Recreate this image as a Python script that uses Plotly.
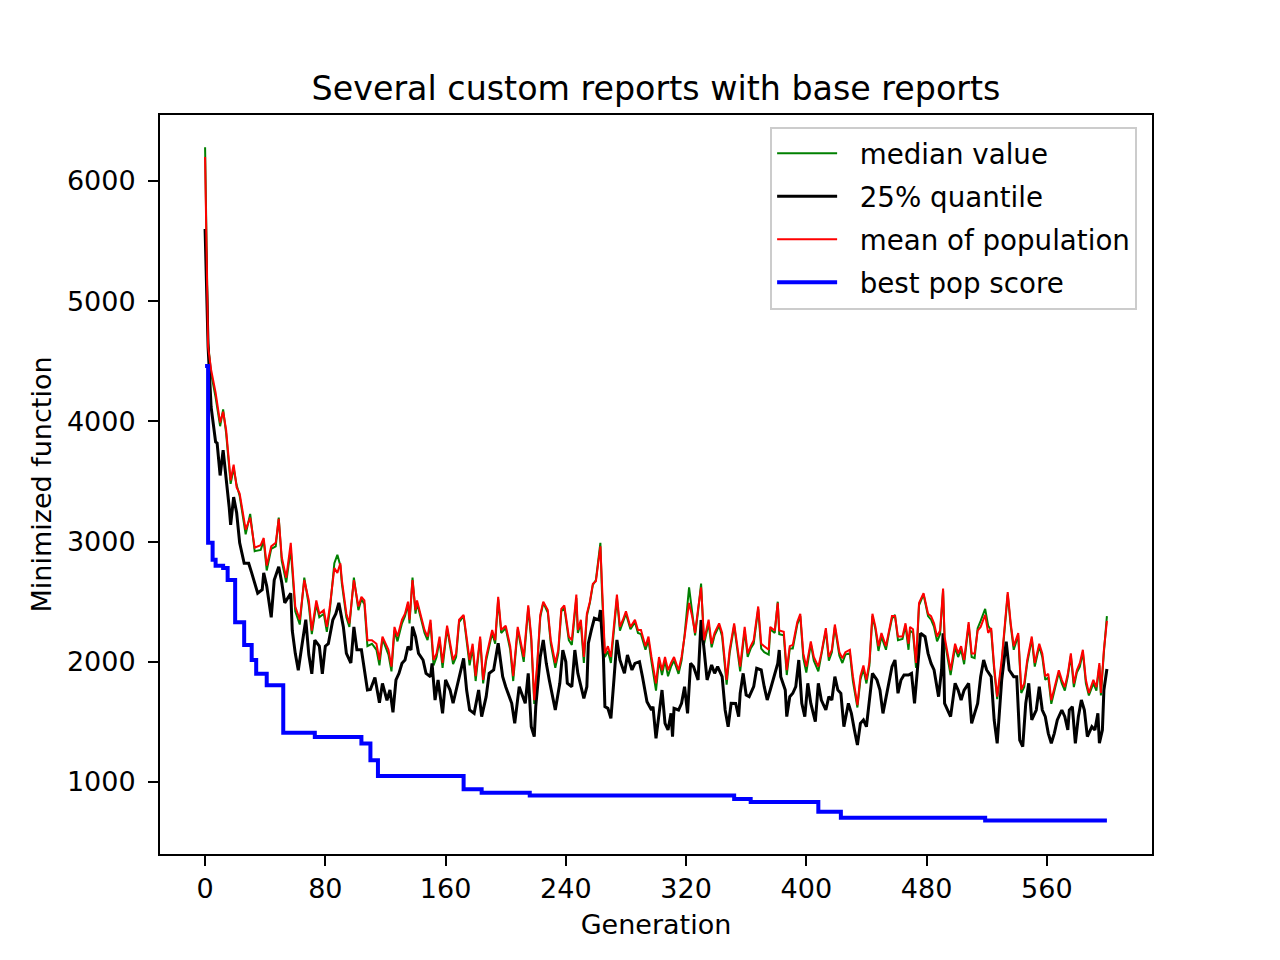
import plotly.graph_objects as go

# generations sampled along the noisy curves (mean and median share them)
gen_pop = [0, 2, 4, 7, 10, 12, 14, 16, 17, 19,
           21, 23, 27, 30, 33, 37, 39, 41, 44, 47,
           49, 51, 54, 57, 60, 63, 66, 69, 71, 74,
           76, 79, 81, 83, 86, 88, 90, 91, 94, 96,
           99, 102, 104, 106, 108, 111, 114, 116, 118, 122,
           124, 126, 128, 131, 133, 135, 136, 138, 140, 141,
           144, 146, 148, 150, 152, 154, 156, 158, 161, 163,
           165, 167, 169, 172, 174, 176, 178, 180, 183, 185,
           187, 191, 193, 195, 197, 200, 203, 205, 208, 212,
           215, 217, 219, 221, 223, 225, 228, 230, 233, 235,
           237, 239, 242, 244, 247, 248, 250, 252, 254, 256,
           258, 260, 263, 264, 266, 268, 270, 274, 276, 278,
           280, 283, 286, 288, 290, 293, 295, 297, 300, 302,
           304, 306, 308, 310, 312, 315, 317, 319, 322, 324,
           326, 328, 330, 332, 335, 337, 339, 342, 344, 347,
           349, 352, 355, 356, 359, 361, 363, 365, 368, 370,
           372, 375, 376, 379, 381, 382, 385, 387, 389, 391,
           394, 396, 398, 400, 403, 405, 408, 410, 413, 415,
           417, 419, 422, 424, 426, 429, 431, 434, 436, 438,
           440, 442, 444, 446, 448, 450, 453, 455, 457, 459,
           461, 464, 466, 468, 469, 471, 473, 475, 478, 481,
           483, 485, 487, 489, 491, 492, 495, 496, 499, 501,
           503, 505, 508, 510, 512, 514, 516, 519, 521, 523,
           525, 527, 530, 532, 534, 536, 538, 541, 543, 545,
           547, 550, 552, 555, 557, 559, 561, 563, 565, 568,
           570, 572, 574, 576, 578, 580, 582, 584, 586, 588,
           591, 593, 595, 596, 598, 600]

mean_pop = [6200, 4620, 4430, 4240, 3990, 4080, 3930, 3680, 3510, 3640,
            3450, 3400, 3100, 3200, 2950, 2970, 3030, 2800, 2960, 2990,
            3190, 2870, 2700, 2990, 2460, 2350, 2680, 2510, 2260, 2510,
            2400, 2430, 2290, 2460, 2780, 2740, 2820, 2680, 2400, 2320,
            2680, 2460, 2540, 2510, 2180, 2180, 2150, 2015, 2210, 2100,
            1960, 2290, 2210, 2350, 2400, 2500, 2350, 2680, 2430, 2510,
            2360, 2265, 2210, 2350, 2015, 2070, 2210, 1990, 2300, 2150,
            2015, 2070, 2350, 2390, 2210, 2015, 2150, 1880, 2210, 1850,
            2040, 2265, 2180, 2540, 2265, 2300, 2130, 1880, 2290, 2040,
            2470, 2210, 1680, 1990, 2390, 2500, 2430, 2180, 1990, 2100,
            2440, 2470, 2210, 2180, 2560, 2265, 2350, 2040, 2400, 2500,
            2650, 2670, 2960, 2620, 2070, 2130, 2040, 2560, 2290, 2350,
            2420, 2290, 2350, 2265, 2265, 2130, 2210, 2040, 1820, 2040,
            1930, 2040, 1930, 1990, 2040, 1930, 2040, 2210, 2490, 2380,
            2240, 2440, 2620, 2180, 2350, 2150, 2240, 2320, 2240, 1850,
            2100, 2320, 2015, 1960, 2290, 2070, 2130, 2180, 2460, 2150,
            2130, 2100, 2290, 2260, 2490, 2260, 2250, 1930, 2130, 2140,
            2330, 2400, 2070, 1960, 2170, 2040, 1960, 2070, 2280, 2040,
            2100, 2310, 2080, 2030, 2080, 2100, 1880, 1640, 1880, 1970,
            1850, 2000, 2400, 2290, 2130, 2240, 2130, 2260, 2380, 2380,
            2210, 2210, 2320, 2150, 2290, 2270, 1990, 2490, 2570, 2400,
            2380, 2320, 2210, 2260, 2610, 2210, 1990, 1930, 2150, 2070,
            2130, 2015, 2330, 2070, 2070, 2260, 2290, 2390, 2240, 2280,
            1960, 1710, 2015, 2320, 2580, 2320, 2130, 2240, 1770, 1820,
            2015, 2210, 1990, 2150, 2070, 1880, 1900, 1680, 1790, 1930,
            1850, 1790, 1900, 2070, 1820, 1930, 1990, 2100, 1850, 1740,
            1850, 1790, 1990, 1740, 2100, 2340]

median_pop = [6280, 4650, 4400, 4200, 3960, 4100, 3900, 3650, 3480, 3610,
              3470, 3380, 3060, 3230, 2920, 2930, 3010, 2760, 2940, 2960,
              3200, 2840, 2660, 2940, 2420, 2310, 2700, 2470, 2230, 2480,
              2370, 2400, 2250, 2430, 2820, 2890, 2800, 2650, 2370, 2290,
              2700, 2430, 2520, 2480, 2130, 2150, 2100, 1970, 2190, 2060,
              1920, 2260, 2170, 2320, 2380, 2480, 2320, 2700, 2400, 2490,
              2330, 2240, 2180, 2320, 1970, 2040, 2180, 1950, 2280, 2120,
              1980, 2040, 2330, 2380, 2180, 1970, 2120, 1840, 2190, 1820,
              2010, 2240, 2150, 2520, 2240, 2280, 2100, 1840, 2270, 2000,
              2450, 2180, 1650, 1960, 2370, 2490, 2410, 2150, 1950, 2070,
              2420, 2450, 2180, 2140, 2530, 2240, 2320, 1990, 2380, 2490,
              2640, 2680, 2990, 2600, 2040, 2090, 1990, 2530, 2260, 2330,
              2400, 2270, 2330, 2240, 2230, 2100, 2180, 2000, 1760, 2010,
              1890, 2010, 1880, 1960, 2010, 1900, 2010, 2220, 2620, 2420,
              2220, 2420, 2650, 2150, 2320, 2120, 2220, 2300, 2210, 1810,
              2070, 2300, 1980, 1920, 2260, 2040, 2110, 2150, 2440, 2110,
              2080, 2060, 2270, 2240, 2500, 2230, 2220, 1890, 2110, 2110,
              2310, 2380, 2030, 1910, 2150, 2010, 1920, 2050, 2260, 2010,
              2080, 2290, 2050, 1990, 2060, 2070, 1840, 1620, 1850, 1940,
              1820, 1970, 2380, 2270, 2090, 2210, 2100, 2240, 2360, 2390,
              2180, 2190, 2300, 2100, 2260, 2240, 1950, 2470, 2560, 2380,
              2350, 2290, 2170, 2230, 2590, 2180, 1950, 1890, 2120, 2040,
              2100, 1980, 2310, 2040, 2030, 2280, 2340, 2440, 2300, 2260,
              1930, 1690, 1990, 2300, 2560, 2300, 2100, 2220, 1740, 1790,
              1990, 2190, 1960, 2130, 2040, 1850, 1870, 1650, 1760, 1910,
              1820, 1760, 1880, 2050, 1790, 1910, 1960, 2080, 1820, 1720,
              1820, 1760, 1970, 1720, 2080, 2380]

gen_q25 = [0, 2, 4, 7, 8, 10, 12, 13, 16, 17,
           19, 21, 23, 26, 29, 31, 35, 38, 39, 41,
           44, 46, 49, 51, 53, 57, 58, 60, 62, 64,
           67, 69, 71, 73, 76, 78, 80, 82, 85, 87,
           89, 92, 94, 97, 99, 101, 104, 108, 110, 113,
           116, 118, 121, 123, 125, 127, 129, 131, 133, 135,
           137, 138, 140, 142, 145, 147, 150, 151, 153, 155,
           158, 160, 163, 165, 168, 172, 174, 176, 179, 182,
           184, 187, 189, 192, 195, 198, 200, 204, 206, 209,
           213, 215, 217, 219, 220, 223, 225, 227, 229, 233,
           236, 238, 240, 241, 244, 246, 248, 250, 252, 254,
           255, 257, 259, 262, 263, 265, 266, 268, 270, 272,
           274, 276, 279, 281, 284, 286, 289, 291, 294, 297,
           298, 300, 302, 304, 306, 308, 310, 311, 312, 315,
           317, 319, 321, 323, 325, 328, 330, 332, 334, 337,
           339, 341, 344, 346, 348, 350, 353, 355, 356, 358,
           360, 362, 365, 367, 370, 372, 374, 376, 379, 381,
           382, 383, 386, 387, 389, 391, 393, 395, 397, 399,
           401, 403, 406, 408, 410, 413, 415, 417, 419, 421,
           423, 425, 428, 430, 432, 434, 436, 438, 440, 442,
           444, 447, 449, 451, 453, 455, 457, 459, 461, 463,
           465, 468, 470, 472, 474, 476, 479, 481, 483, 485,
           488, 490, 491, 492, 495, 496, 499, 501, 503, 505,
           508, 510, 512, 514, 516, 518, 520, 523, 525, 527,
           530, 532, 533, 535, 538, 540, 542, 544, 546, 548,
           550, 553, 555, 557, 559, 561, 563, 565, 567, 570,
           572, 574, 575, 577, 579, 581, 583, 585, 587, 590,
           592, 594, 595, 597, 598, 600]

q25_pop = [5600, 4620, 4120, 3830, 3820, 3550, 3760, 3650, 3290, 3140,
           3370, 3240, 2990, 2820, 2820, 2740, 2570, 2600, 2740, 2630,
           2370, 2680, 2790, 2660, 2490, 2570, 2260, 2070, 1930, 2100,
           2350, 2060, 1900, 2180, 2130, 1900, 2130, 2150, 2350, 2400,
           2490, 2290, 2070, 1990, 2290, 2100, 2100, 1765, 1770, 1870,
           1660, 1820, 1680, 1765, 1580, 1850, 1904, 1987, 2015, 2126,
           2098, 2292, 2210, 2070, 2015, 1904, 1876, 1987, 1682, 1849,
           1571, 1849, 1765, 1655, 1821, 2029, 1765, 1599, 1571, 1765,
           1544, 1710, 1904, 1932, 2154, 1876, 1793, 1655, 1488, 1793,
           1655, 1904, 1460, 1377, 1627, 2043, 2182, 1987, 1849, 1599,
           1821, 2098, 2000, 1821, 1793, 2098, 1904, 1793, 1696, 1793,
           2154, 2265, 2362, 2348, 2431, 2043, 1627, 1613, 1530, 1849,
           2182, 2015, 1904, 2057, 1932, 1987, 2001, 1876, 1668, 1599,
           1627, 1363, 1544, 1765, 1488, 1433, 1571, 1377, 1613, 1599,
           1655, 1793, 1571, 1987, 1959, 1849, 2348, 2098, 1849, 1973,
           1904, 1959, 1876, 1599, 1460, 1655, 1654, 1544, 1738, 1904,
           1724, 1710, 1793, 1946, 1932, 1793, 1682, 1765, 1904, 1987,
           2098, 1876, 1765, 1544, 1710, 1738, 1793, 2015, 1654, 1544,
           1821, 1654, 1502, 1821, 1682, 1599, 1710, 1682, 1876, 1765,
           1738, 1460, 1654, 1571, 1433, 1308, 1488, 1516, 1460, 1710,
           1904, 1849, 1765, 1571, 1710, 1849, 1959, 2015, 1738, 1849,
           1890, 1890, 1904, 1654, 1987, 2237, 2209, 2070, 1987, 1932,
           1710, 1932, 2237, 1654, 1571, 1544, 1821, 1765, 1682, 1765,
           1821, 1488, 1571, 1654, 1876, 2015, 1932, 1876, 1516, 1322,
           1849, 2043, 2167, 1932, 1876, 1876, 1349, 1294, 1654, 1821,
           1516, 1599, 1793, 1599, 1544, 1405, 1322, 1405, 1516, 1599,
           1544, 1433, 1599, 1627, 1322, 1544, 1682, 1599, 1377, 1460,
           1433, 1571, 1322, 1433, 1765, 1940]

# best score only changes at these generations
gen_best = [0, 2, 5, 7, 12, 15, 20, 26, 31, 34, 41, 52, 73, 104, 110, 115,
            172, 184, 216, 352, 363, 408, 423, 519, 600]
best_pop = [4460, 2990, 2850, 2800, 2780, 2680, 2330, 2140, 2015, 1900, 1805,
            1410, 1375, 1320, 1180, 1050, 940, 911, 888, 859, 833, 752, 703,
            680, 680]

x_ticks = [0, 80, 160, 240, 320, 400, 480, 560]
y_ticks = [1000, 2000, 3000, 4000, 5000, 6000]

FONT = "DejaVu Sans"
PAD = "\u00a0\u00a0"  # gap between legend line and label, like matplotlib

fig = go.Figure()
fig.add_trace(go.Scatter(x=gen_pop, y=median_pop, mode="lines", name=PAD + "median value",
                         legendgroup="a", line=dict(color="green", width=2)))
fig.add_trace(go.Scatter(x=gen_q25, y=q25_pop, mode="lines", name=PAD + "25% quantile",
                         legendgroup="b", line=dict(color="black", width=3)))
fig.add_trace(go.Scatter(x=gen_pop, y=mean_pop, mode="lines", name=PAD + "mean of population",
                         legendgroup="c", line=dict(color="red", width=2)))
fig.add_trace(go.Scatter(x=gen_best, y=best_pop, mode="lines", name=PAD + "best pop score",
                         legendgroup="d", line=dict(color="blue", width=4, shape="hv")))

axis_style = dict(showline=True, mirror=True, linecolor="black", linewidth=2,
                  ticks="outside", ticklen=10, tickwidth=2, tickcolor="black",
                  showgrid=False, zeroline=False,
                  tickfont=dict(family=FONT, size=27, color="black"))

fig.update_xaxes(range=[-30, 630], tickvals=x_ticks,
                 title=dict(text="Generation", font=dict(family=FONT, size=27, color="black"), standoff=12),
                 **axis_style)
fig.update_yaxes(range=[401, 6549], tickvals=y_ticks, ticklabelstandoff=7,
                 title=dict(text="Minimized function", font=dict(family=FONT, size=27, color="black"), standoff=7),
                 **axis_style)

# the page sits 8px in from the window edge, margins take that into account
fig.update_layout(
    width=1280, height=960,
    margin=dict(l=152, r=136, t=107, b=114),
    paper_bgcolor="white", plot_bgcolor="white",
    title=dict(text="Several custom reports with base reports", x=0.50625, xanchor="center",
               y=0.9167, yanchor="middle", font=dict(family=FONT, size=33.3, color="black")),
    legend=dict(x=0.985, y=0.984, xanchor="right", yanchor="top",
                bgcolor="rgba(255,255,255,0.8)", bordercolor="#cccccc", borderwidth=2,
                font=dict(family=FONT, size=27.7, color="black"), itemwidth=60,
                tracegroupgap=4),
    showlegend=True,
)

fig.write_html("out.html")
